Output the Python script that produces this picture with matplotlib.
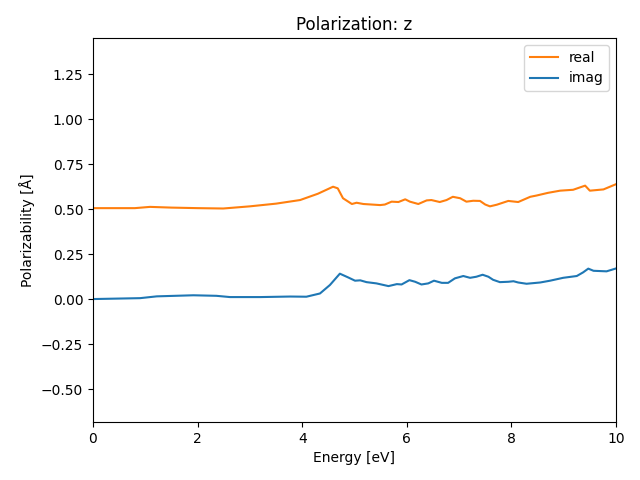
import matplotlib
matplotlib.use("Agg")
import matplotlib.pyplot as plt

# Energy grid and polarizability values
energy_real = [0.0, 0.5, 0.8, 1.09, 1.5, 2.0, 2.49, 3.0, 3.5, 3.96, 4.3, 4.59, 4.68, 4.78, 4.95,
               5.04, 5.17, 5.49, 5.58, 5.71, 5.84, 5.97, 6.06, 6.22, 6.38, 6.47, 6.63, 6.76,
               6.88, 7.02, 7.14, 7.27, 7.40, 7.50, 7.59, 7.72, 7.94, 8.13, 8.36, 8.48, 8.70,
               8.93, 9.18, 9.41, 9.50, 9.76, 10.0]
real = [0.505, 0.505, 0.505, 0.512, 0.508, 0.505, 0.503, 0.515, 0.53, 0.55, 0.585, 0.624, 0.615,
        0.56, 0.528, 0.535, 0.528, 0.522, 0.525, 0.541, 0.539, 0.554, 0.541, 0.528, 0.548,
        0.55, 0.539, 0.55, 0.568, 0.56, 0.541, 0.546, 0.545, 0.525, 0.515, 0.524, 0.545,
        0.539, 0.568, 0.575, 0.59, 0.602, 0.607, 0.63, 0.602, 0.609, 0.638]

energy_imag = [0.0, 0.9, 1.22, 1.92, 2.36, 2.62, 3.2, 3.77, 4.08, 4.34, 4.53, 4.72, 4.88, 5.01,
               5.11, 5.23, 5.42, 5.65, 5.81, 5.90, 6.05, 6.16, 6.28, 6.41, 6.52, 6.67, 6.79,
               6.92, 7.08, 7.21, 7.33, 7.45, 7.56, 7.65, 7.78, 7.94, 8.04, 8.13, 8.29, 8.55,
               8.74, 8.99, 9.25, 9.37, 9.47, 9.57, 9.82, 10.0]
imag = [0.0, 0.005, 0.015, 0.021, 0.018, 0.011, 0.011, 0.014, 0.013, 0.031, 0.078, 0.141, 0.12,
        0.102, 0.104, 0.094, 0.087, 0.072, 0.083, 0.081, 0.105, 0.096, 0.081, 0.087, 0.102,
        0.09, 0.09, 0.115, 0.128, 0.118, 0.124, 0.135, 0.124, 0.107, 0.094, 0.096, 0.099,
        0.092, 0.085, 0.092, 0.102, 0.118, 0.128, 0.148, 0.169, 0.157, 0.154, 0.17]

fig, ax = plt.subplots(figsize=(6.4, 4.8), dpi=100)
ax.plot(energy_real, real, color='C1', label='real')
ax.plot(energy_imag, imag, color='C0', label='imag')

ax.set_xlim(0, 10)
ax.set_ylim(-0.683, 1.45)
ax.set_xlabel('Energy [eV]')
ax.set_ylabel('Polarizability [Å]')
ax.set_title('Polarization: z')
ax.legend(loc='upper right')

fig.subplots_adjust(left=0.1453, right=0.9625, top=0.9208, bottom=0.1208)
fig.savefig('out.png', dpi=100)
